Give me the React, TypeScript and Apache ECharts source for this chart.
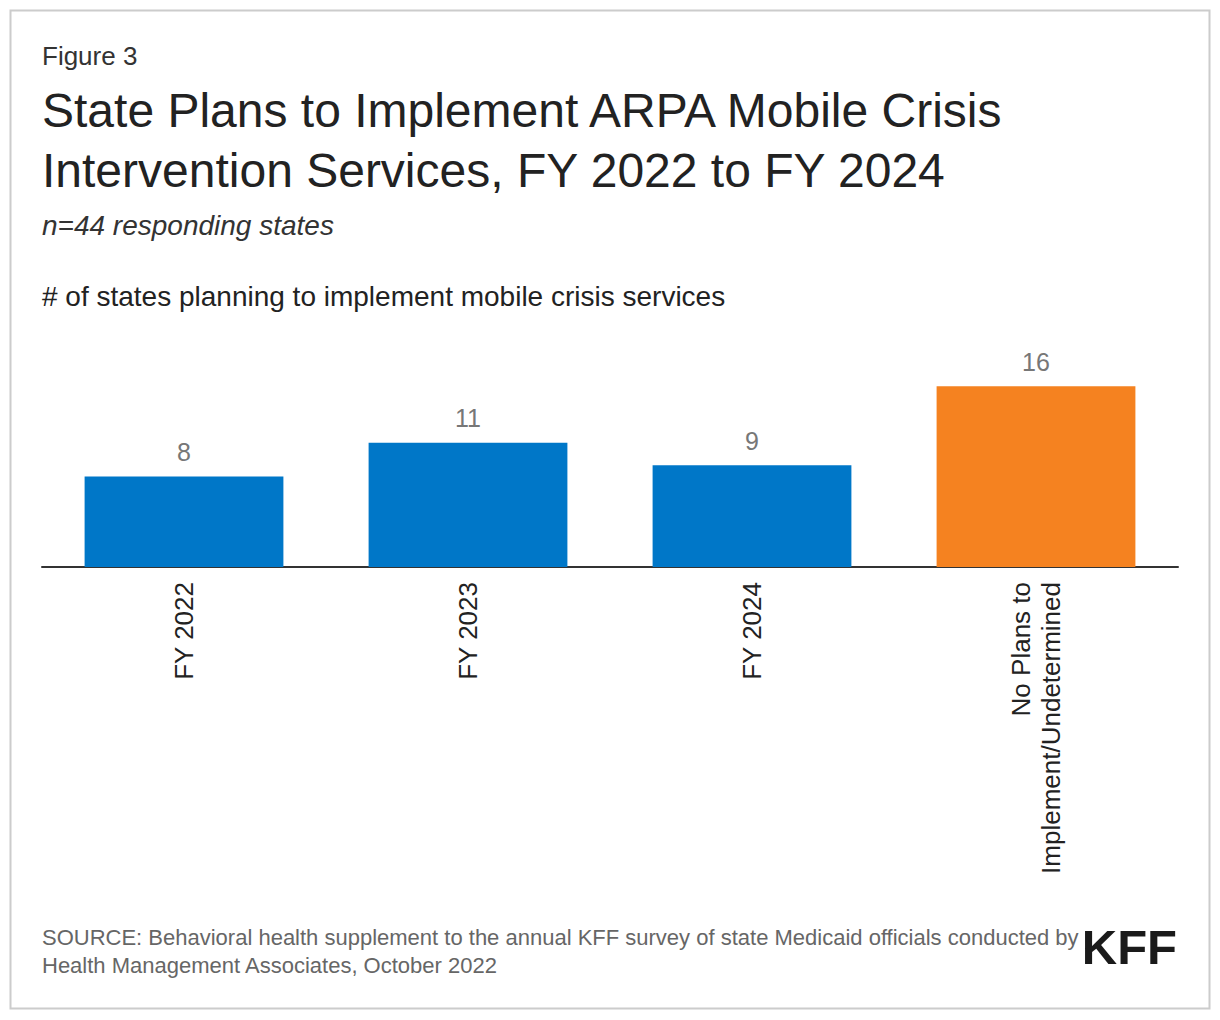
import React, { useEffect, useRef } from "react";
import * as echarts from "echarts";

const categories = ["FY 2022", "FY 2023", "FY 2024", "No Plans to\nImplement/Undetermined"];
const values = [8, 11, 9, 16];
const barColors = ["#0077c8", "#0077c8", "#0077c8", "#f58220"];

const FONT = "'Liberation Sans', Arial, Helvetica, sans-serif";

export default function App() {
  const ref = useRef<HTMLDivElement>(null);
  useEffect(() => {
    document.body.style.margin = "0";
    const chart = echarts.init(ref.current!, null, { renderer: "svg" });
    chart.setOption({
      animation: false,
      backgroundColor: "#ffffff",
      textStyle: { fontFamily: FONT },
      grid: { left: 42, right: 42, top: 341, bottom: 1020 - 567, containLabel: false },
      xAxis: {
        type: "category",
        data: categories,
        axisLine: { show: true, lineStyle: { color: "#333333", width: 2 } },
        axisTick: { show: false },
        axisLabel: {
          rotate: 90,
          interval: 0,
          margin: 15,
          fontSize: 26,
          color: "#222222",
          fontFamily: FONT,
          lineHeight: 30,
          align: "right",
        },
      },
      yAxis: { type: "value", min: 0, max: 20, show: false, splitLine: { show: false } },
      series: [
        {
          type: "bar",
          data: values.map((v, i) => ({ value: v, itemStyle: { color: barColors[i] } })),
          barCategoryGap: "30%",
          label: {
            show: true,
            position: "top",
            distance: 12,
            fontSize: 25,
            color: "#777777",
            fontFamily: FONT,
          },
        },
      ],
      graphic: [
        {
          type: "rect",
          shape: { x: 10.5, y: 10.5, width: 1199, height: 998 },
          style: { fill: "none", stroke: "#cccccc", lineWidth: 2 },
        },
        {
          type: "text",
          x: 42,
          y: 43,
          style: { text: "Figure 3", font: `26px ${FONT}`, fill: "#333333" },
        },
        {
          type: "text",
          x: 42,
          y: 80,
          style: {
            text: "State Plans to Implement ARPA Mobile Crisis\nIntervention Services, FY 2022 to FY 2024",
            font: `48px ${FONT}`,
            lineHeight: 60,
            fill: "#222222",
          },
        },
        {
          type: "text",
          x: 42,
          y: 211,
          style: { text: "n=44 responding states", font: `italic 28px ${FONT}`, fill: "#333333" },
        },
        {
          type: "text",
          x: 42,
          y: 282,
          style: { text: "# of states planning to implement mobile crisis services", font: `28px ${FONT}`, fill: "#222222" },
        },
        {
          type: "text",
          x: 42,
          y: 923,
          style: {
            text: "SOURCE: Behavioral health supplement to the annual KFF survey of state Medicaid officials conducted by\nHealth Management Associates, October 2022",
            font: `22px ${FONT}`,
            lineHeight: 28,
            fill: "#666666",
          },
        },
        {
          type: "text",
          x: 1177,
          y: 922,
          style: {
            text: "KFF",
            font: `bold 49px ${FONT}`,
            fill: "#1a1a1a",
            align: "right",
          },
        },
      ],
    });
    return () => chart.dispose();
  }, []);
  return <div ref={ref} style={{ position: "absolute", left: 0, top: 0, width: 1220, height: 1020 }} />;
}
